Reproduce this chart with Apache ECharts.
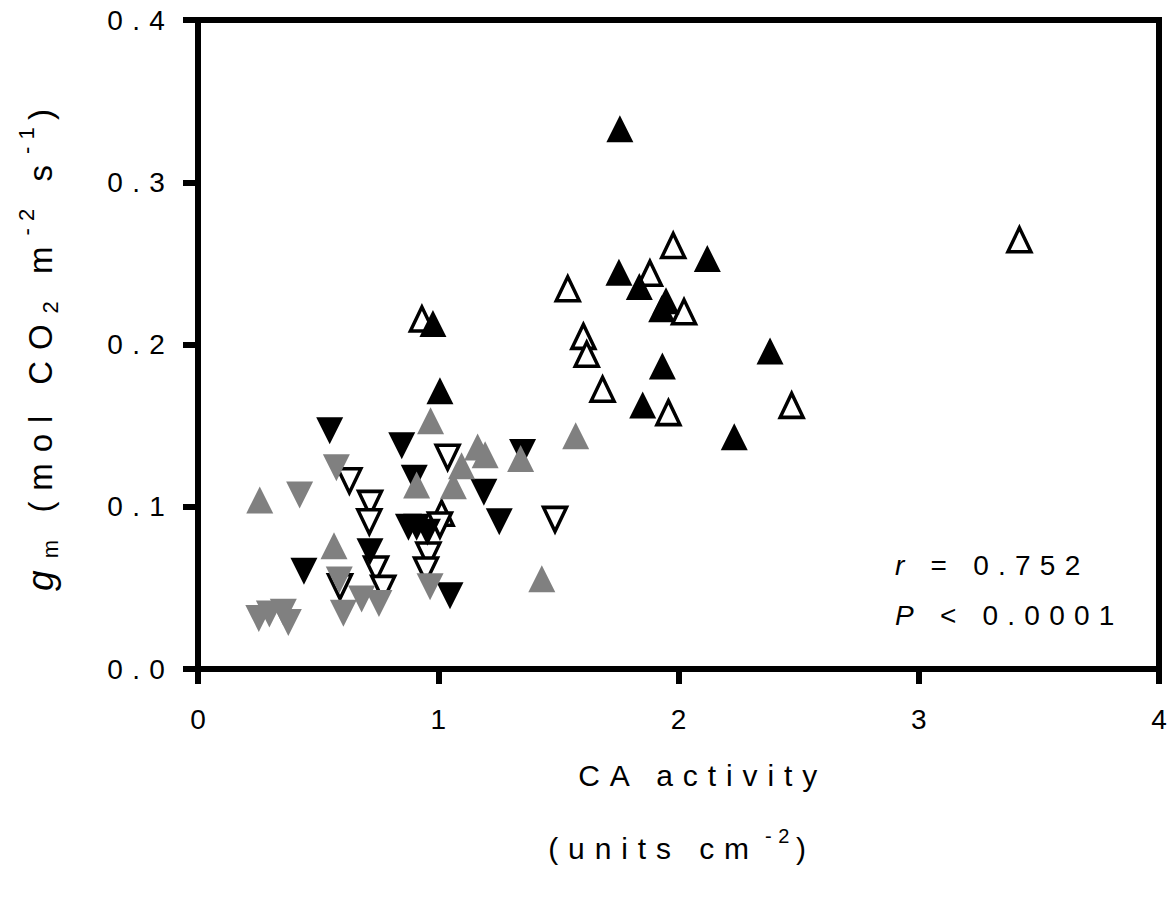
<!DOCTYPE html>
<html>
<head>
<meta charset="utf-8">
<script src="https://cdn.jsdelivr.net/npm/echarts@6/dist/echarts.min.js"></script>
<style>
  html, body { margin: 0; padding: 0; background: #fff; }
  #main { width: 1169px; height: 907px; }
  #main text { letter-spacing: 0.33em; }
  #main text[style*="Helvetica"] { letter-spacing: 0; }
</style>
</head>
<body>
<div id="main"></div>
<script>
// ---- data (x: CA activity, y: gm) ----
const blackUp = [[1.756,0.333],[2.120,0.253],[1.752,0.2445],[1.837,0.2357],[1.948,0.227],[1.930,0.222],[2.381,0.196],[1.933,0.1867],[1.851,0.1627],[2.232,0.1432],[0.978,0.213],[1.007,0.1715]];
const openUp = [[1.978,0.261],[1.881,0.2439],[1.539,0.2344],[2.023,0.2202],[1.604,0.205],[1.618,0.194],[1.684,0.1724],[1.958,0.158],[2.471,0.1625],[3.419,0.2646],[0.932,0.2157],[1.014,0.096]];
const grayUp = [[1.572,0.1438],[1.343,0.1298],[0.968,0.153],[1.164,0.1368],[1.195,0.132],[1.097,0.1253],[0.910,0.1134],[1.063,0.113],[1.431,0.0557],[0.257,0.1042],[0.566,0.076]];
const blackDown = [[1.351,0.1335],[0.848,0.1376],[0.900,0.1175],[1.190,0.1089],[1.254,0.0908],[0.876,0.0873],[0.910,0.0873],[0.955,0.0843],[1.049,0.0452],[0.716,0.0723],[0.548,0.1469],[0.441,0.0602]];
const openDown = [[1.039,0.1305],[1.486,0.0922],[1.007,0.0888],[0.959,0.0703],[0.949,0.061],[0.630,0.116],[0.716,0.1021],[0.713,0.0908],[0.741,0.0616],[0.771,0.0497],[0.591,0.0507]];
const grayDown = [[0.966,0.0507],[0.576,0.1241],[0.423,0.1072],[0.588,0.0549],[0.605,0.0343],[0.681,0.0431],[0.753,0.0403],[0.253,0.0312],[0.297,0.0339],[0.355,0.0349],[0.376,0.0286]];
const xTickLabels = ['0','1','2','3','4'];
const yTickLabels = ['0.0','0.1','0.2','0.3','0.4'];
const statR = '0.752';
const statP = '0.0001';

// ---- styling helpers ----
const FONT = "'Liberation Sans', Arial, sans-serif";
const FONT_NOSPACE = "'Liberation Sans', Arial, Helvetica, sans-serif";
const LS = 0.33; // letter spacing in em (applied via CSS on svg text)
function buildRich(lines) {
  const rich = {};
  let idx = 0;
  const str = lines.map(line => line.map(([t, base]) => {
    const name = 't' + (idx++);
    const fs = base.fontSize;
    const p = base.padding || [0, 0, 0, 0];
    rich[name] = Object.assign({ fontFamily: FONT, color: '#000' }, base,
      { align: 'left', padding: [p[0], p[1] + t.length * LS * fs, p[2], p[3]] });
    return '{' + name + '|' + t + '}';
  }).join('')).join('\n');
  return { str, rich };
}

const N = { fontSize: 30, lineHeight: 73 };
const N1 = { fontSize: 30, lineHeight: 73, padding: [0, 0, 0, 50] };
const N2 = { fontSize: 30, lineHeight: 73, padding: [0, 0, 0, 20] };
const SUP = { fontSize: 20, padding: [0, 0, 26, 6] };
const xName = buildRich([
  [['CA activity', N1]],
  [['(units cm', N2], ['-2', SUP], [')', N]]
]);
const YN = { fontSize: 33 };
const ySub = { fontSize: 22, padding: [20, 0, 0, 0] };
const ySup = { fontSize: 22, padding: [0, 0, 28, 0] };
const yName = buildRich([
  [['g', { fontSize: 37, fontStyle: 'italic' }], ['m', ySub], [' (mol CO', YN], ['2', ySub], [' m', YN], ['-2', ySup], [' s', YN], ['-1', ySup], [')', YN]]
]);
const A = { fontSize: 28 };
const AI = { fontSize: 28, fontStyle: 'italic' };
const rText = buildRich([[['r', AI], [' = ' + statR, A]]]);
const pText = buildRich([[['P', AI], [' < ' + statP, A]]]);

const chart = echarts.init(document.getElementById('main'), null, { renderer: 'svg' });

function up(name, data, fill, stroke) {
  const open = !!stroke;
  return {
    name, type: 'scatter', data,
    symbol: 'triangle',
    symbolSize: open ? [23, 24] : [27, 27],
    itemStyle: open
      ? { color: '#fff', borderColor: stroke, borderWidth: 3.5, borderJoin: 'miter', borderMiterLimit: 10, opacity: 1 }
      : { color: fill, borderWidth: 0, opacity: 1 },
    emphasis: { disabled: true },
    animation: false
  };
}
function down(name, data, fill, stroke) {
  const s = up(name, data, fill, stroke);
  s.symbolRotate = 180;
  return s;
}

chart.setOption({
  animation: false,
  backgroundColor: '#fff',
  grid: {
    left: 198, right: 10, top: 20, bottom: 238,
    show: true, borderColor: '#000', borderWidth: 6, backgroundColor: 'transparent',
    outerBoundsMode: 'none'
  },
  xAxis: {
    type: 'value', min: 0, max: 4, interval: 1,
    axisLine: { show: true, onZero: false, lineStyle: { color: '#000', width: 6 } },
    axisTick: { show: true, length: 15, inside: false, lineStyle: { color: '#000', width: 6 } },
    splitLine: { show: false },
    axisLabel: {
      color: '#000', fontSize: 28, fontFamily: FONT_NOSPACE, margin: 36,
      formatter: (v) => xTickLabels[Math.round(v)]
    },
    name: xName.str, nameLocation: 'middle', nameGap: 70,
    nameTextStyle: { rich: xName.rich, fontFamily: FONT, color: '#000', align: 'center' }
  },
  yAxis: {
    type: 'value', min: 0, max: 0.4, interval: 0.1,
    axisLine: { show: true, onZero: false, lineStyle: { color: '#000', width: 6 } },
    axisTick: { show: true, length: 15, inside: false, lineStyle: { color: '#000', width: 6 } },
    splitLine: { show: false },
    axisLabel: {
      color: '#000', fontSize: 28, fontFamily: FONT, margin: 24,
      formatter: (v) => yTickLabels[Math.round(v * 10)]
    },
    name: yName.str, nameLocation: 'middle', nameRotate: 90, nameGap: 133,
    nameTextStyle: { rich: yName.rich, fontFamily: FONT, color: '#000' }
  },
  graphic: [
    { type: 'text', left: 895, top: 551, style: { text: rText.str, rich: rText.rich, fill: '#000', font: '28px ' + FONT } },
    { type: 'text', left: 895, top: 601, style: { text: pText.str, rich: pText.rich, fill: '#000', font: '28px ' + FONT } }
  ],
  series: [
    up('open up', openUp, null, '#000'),
    down('open down', openDown, null, '#000'),
    up('black up', blackUp, '#000'),
    down('black down', blackDown, '#000'),
    up('gray up', grayUp, '#808080'),
    down('gray down', grayDown, '#808080')
  ]
});
</script>
</body>
</html>
